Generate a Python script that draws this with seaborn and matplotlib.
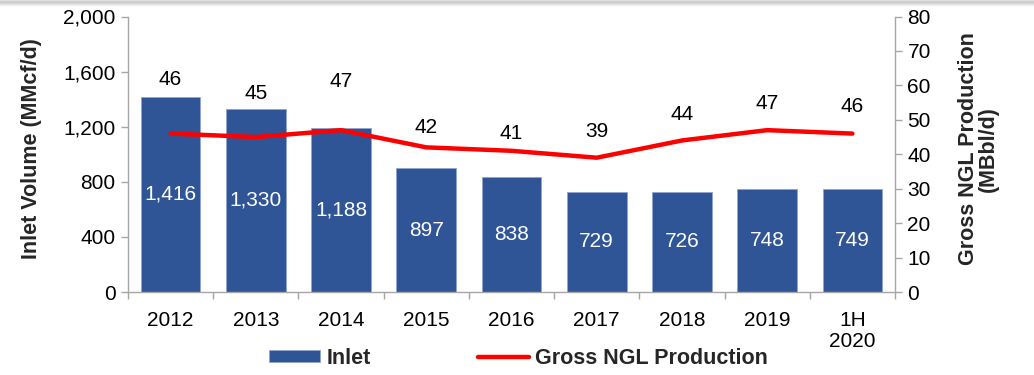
import numpy as np
import pandas as pd
import matplotlib
matplotlib.use("Agg")
import matplotlib.pyplot as plt
import seaborn as sns
from matplotlib.ticker import FuncFormatter, MultipleLocator, FixedLocator

# Data
periods = ["2012", "2013", "2014", "2015", "2016", "2017", "2018", "2019", "1H\n2020"]
inlet_volume = [1416, 1330, 1188, 897, 838, 729, 726, 748, 749]      # MMcf/d
ngl_production = [46, 45, 47, 42, 41, 39, 44, 47, 46]               # MBbl/d
# Height (in MBbl/d axis units) at which each NGL value label sits
ngl_label_y = [61.7, 57.7, 61.1, 47.7, 45.9, 46.6, 51.6, 54.8, 53.8]

BAR_COLOR = "#2F5597"
LINE_COLOR = "#FF0000"
GRID_GRAY = "#A6A6A6"
NUM_SIZE = 15
TITLE_SIZE = 15.5

sns.set_theme(style="white")
plt.rcParams["font.family"] = ["Liberation Sans", "DejaVu Sans"]

df = pd.DataFrame({"period": periods, "inlet": inlet_volume, "ngl": ngl_production})

fig = plt.figure(figsize=(10.34, 3.75), dpi=100)
ax = fig.add_axes([128 / 1034, 1 - 292 / 375, (895 - 128) / 1034, (292 - 16.5) / 375])

sns.barplot(data=df, x="period", y="inlet", color=BAR_COLOR, saturation=1,
            width=0.70, ax=ax, edgecolor="#8EA4CF", linewidth=0.6)
ax.bar_label(ax.containers[0], labels=[f"{v:,}" for v in inlet_volume],
             label_type="center", color="white", fontsize=NUM_SIZE)

ax.set_ylim(0, 2000)
ax.set_xlim(-0.5, len(periods) - 0.5)
ax.yaxis.set_major_locator(MultipleLocator(400))
ax.yaxis.set_major_formatter(FuncFormatter(lambda v, p: f"{int(v):,}"))

ax2 = ax.twinx()
sns.lineplot(data=df, x="period", y="ngl", color=LINE_COLOR, linewidth=3.2,
             ax=ax2, legend=False)
ax2.set_ylim(0, 80)
ax2.yaxis.set_major_locator(MultipleLocator(10))
for i, (v, ly) in enumerate(zip(ngl_production, ngl_label_y)):
    ax2.text(i, ly, f"{v}", ha="center", va="center", fontsize=NUM_SIZE, color="black")

# Spines and ticks
for a in (ax, ax2):
    for s in a.spines.values():
        s.set_visible(False)
    a.grid(False)
ax.spines["left"].set_visible(True)
ax.spines["bottom"].set_visible(True)
ax2.spines["right"].set_visible(True)
for s in (ax.spines["left"], ax.spines["bottom"], ax2.spines["right"]):
    s.set_color(GRID_GRAY)
    s.set_linewidth(1.0)

ax.tick_params(axis="y", which="major", left=True, length=5, width=1,
               color=GRID_GRAY, labelsize=NUM_SIZE, labelcolor="black", pad=4)
ax2.tick_params(axis="y", which="major", right=True, length=5, width=1,
                color=GRID_GRAY, labelsize=NUM_SIZE, labelcolor="black", pad=4)
ax.set_xticks(range(len(periods)))
ax.set_xticklabels(periods)
ax.xaxis.set_minor_locator(FixedLocator(np.arange(-0.5, len(periods), 1.0)))
ax.tick_params(axis="x", which="major", length=0, labelsize=NUM_SIZE, labelcolor="black", pad=14)
ax.tick_params(axis="x", which="minor", bottom=True, length=5, width=1, color=GRID_GRAY)
for t in ax.get_xticklabels():
    t.set_linespacing(1.12)
    t.set_va("top")

ax.set_xlabel("")
ax.set_ylabel("Inlet Volume (MMcf/d)", fontsize=TITLE_SIZE, fontweight="bold")
ax.yaxis.set_label_coords(-0.112, 0.52)
ax2.set_ylabel("Gross NGL Production\n(MBbl/d)", fontsize=TITLE_SIZE, fontweight="bold",
               linespacing=0.95)
ax2.yaxis.set_label_coords(1.082, 0.52)

# Legend
handles = [ax.containers[0].patches[0], ax2.get_lines()[0]]
fig.legend(handles, ["Inlet", "Gross NGL Production"], loc="center",
           bbox_to_anchor=(0.5015, 0.045), ncol=2, frameon=False,
           prop={"size": TITLE_SIZE, "weight": "bold"}, handlelength=2.37,
           handleheight=0.55, handletextpad=0.28, columnspacing=5.0)

# Soft gray shading along the top edge
shade = fig.add_axes([0, 1 - 8 / 375, 1, 8 / 375])
vals = np.array([0.88, 0.82, 0.80, 0.84, 0.89, 0.94, 0.98, 1.0])
shade.imshow(vals[:, None] * np.ones((1, 10)), cmap="gray", vmin=0, vmax=1,
             aspect="auto", interpolation="bilinear")
shade.set_axis_off()

fig.savefig("out.png", dpi=100, facecolor="white")
